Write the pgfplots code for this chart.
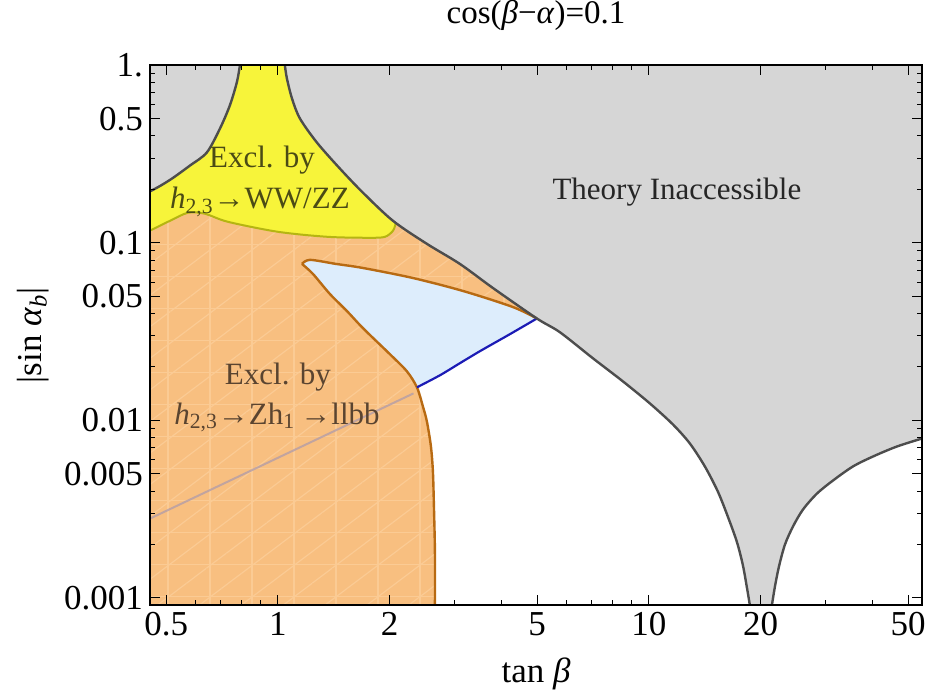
\documentclass[border=0pt]{standalone}
\usepackage{pgfplots}
\pgfplotsset{compat=1.18}
\usepackage{fontspec}
\setmainfont{Liberation Serif}
\usetikzlibrary{patterns.meta}
\definecolor{gfill}{HTML}{D6D6D6}
\definecolor{gline}{HTML}{4D4D4D}
\definecolor{yfill}{HTML}{F7F43A}
\definecolor{yline}{HTML}{B5B512}
\definecolor{ofill}{HTML}{F8BF80}
\definecolor{omesh}{HTML}{FBCB94}
\definecolor{bfill}{HTML}{DDEDFC}
\definecolor{bline}{HTML}{1B1BB5}
\definecolor{brline}{HTML}{B86A12}
\definecolor{ytext}{HTML}{4B4B15}
\definecolor{otext}{HTML}{5A4430}
\newcommand\fs{\fontsize{15.5}{18}\selectfont}
\newcommand\fst{\fontsize{17.5}{20}\selectfont}
\begin{document}
\begin{tikzpicture}
\begin{axis}[
  xmode=log, ymode=log,
  scale only axis, width=386pt, height=270pt,
  xmin=0.452, xmax=54.5, ymin=0.00091, ymax=1,
  axis on top,
  xtick={0.5,1,2,5,10,20,50}, xticklabels={0.5,1,2,5,10,20,50},
  minor xtick={0.6,0.7,0.8,0.9,3,4,6,7,8,9,30,40},
  ytick={0.001,0.005,0.01,0.05,0.1,0.5,1},
  yticklabels={0.001,0.005,0.01,0.05,0.1,0.5,1.},
  minor ytick={0.002,0.003,0.004,0.006,0.007,0.008,0.009,0.02,0.03,0.04,0.06,0.07,0.08,0.09,0.2,0.3,0.4,0.6,0.7,0.8,0.9},
  major tick length=5pt, minor tick length=2.5pt,
  tick style={black, line width=0.5pt},
  axis line style={black, line width=1pt},
  ticklabel style={font=\fst},
  title={cos(\textit{β}−\textit{α})=0.1},
  title style={font=\fontsize{16.5}{19}\selectfont, inner sep=0pt, at={(axis description cs:0.5,1.0556)}, anchor=base},
  xlabel={tan \textit{β}},
  xlabel style={font=\fst, inner sep=0pt, at={(axis description cs:0.5,-0.1426)}, anchor=base},
  ylabel={|sin \textit{α}\textsubscript{\textit{b}}|},
  ylabel style={font=\fst, inner sep=0pt, at={(axis description cs:-0.1516,0.5)}, anchor=center, rotate=0},
]
% orange excluded region (h -> Z h1 -> llbb)
\addplot[draw=none, fill=ofill] coordinates {
 (0.452,0.00091) (0.452,1) (4.99,1) (4.99,0.0375) (4.22,0.0306) (3.504,0.02454)
 (3.094,0.0210) (2.734,0.01796) (2.370,0.01536) (2.459,0.0120) (2.521,0.00987)
 (2.585,0.00713) (2.617,0.00515) (2.633,0.00335) (2.650,0.00182) (2.65,0.00091)
} -- cycle;
\addplot[draw=none, pattern={Lines[angle=90,distance=21pt,line width=0.6pt]}, pattern color=omesh] coordinates {
 (0.452,0.00091) (0.452,1) (4.99,1) (4.99,0.0375) (4.22,0.0306) (3.504,0.02454)
 (3.094,0.0210) (2.734,0.01796) (2.370,0.01536) (2.459,0.0120) (2.521,0.00987)
 (2.585,0.00713) (2.617,0.00515) (2.633,0.00335) (2.650,0.00182) (2.65,0.00091)
} -- cycle;
\addplot[draw=none, pattern={Lines[angle=0,distance=16pt,line width=0.6pt]}, pattern color=omesh] coordinates {
 (0.452,0.00091) (0.452,1) (4.99,1) (4.99,0.0375) (4.22,0.0306) (3.504,0.02454)
 (3.094,0.0210) (2.734,0.01796) (2.370,0.01536) (2.459,0.0120) (2.521,0.00987)
 (2.585,0.00713) (2.617,0.00515) (2.633,0.00335) (2.650,0.00182) (2.65,0.00091)
} -- cycle;
\addplot[draw=none, pattern={Lines[angle=37,distance=12.6pt,line width=0.6pt]}, pattern color=omesh] coordinates {
 (0.452,0.00091) (0.452,1) (4.99,1) (4.99,0.0375) (4.22,0.0306) (3.504,0.02454)
 (3.094,0.0210) (2.734,0.01796) (2.370,0.01536) (2.459,0.0120) (2.521,0.00987)
 (2.585,0.00713) (2.617,0.00515) (2.633,0.00335) (2.650,0.00182) (2.65,0.00091)
} -- cycle;
% faint diagonal line
\addplot[draw={rgb,255:red,175;green,155;blue,170}, line width=1pt, opacity=0.75] coordinates {(0.452,0.0028) (2.32,0.0142)};
% light blue region
\addplot[draw=none, fill=bfill] coordinates {
 (1.161,0.0761) (1.220,0.0802) (1.434,0.0761) (1.695,0.0722) (2.311,0.0634)
 (3.152,0.0536) (4.30,0.0435) (4.99,0.0375) (4.22,0.0306) (3.504,0.02454)
 (3.094,0.0210) (2.734,0.01796) (2.370,0.01536) (2.227,0.0189) (2.004,0.0236)
 (1.695,0.0331) (1.535,0.0413) (1.381,0.0515) (1.243,0.0668)
} -- cycle;
% yellow region (h -> WW/ZZ)
\addplot[draw=none, fill=yfill] coordinates {
 (0.452,0.117) (0.5116,0.1331) (0.572,0.1477) (0.6355,0.1459) (0.733,0.1314)
 (1.0,0.1154) (1.364,0.1081) (1.770,0.1068) (1.943,0.1081) (2.042,0.1169)
 (2.08,0.1297) (2.2,0.14) (2.2,1) (0.452,1)
} -- cycle;
% theory inaccessible (gray)
\addplot[draw=none, fill=gfill] coordinates {
 (0.452,0.195) (0.481,0.209) (0.521,0.232) (0.579,0.2723) (0.643,0.3225)
 (0.698,0.4406) (0.742,0.5943) (0.775,0.8016) (0.790,1) (0.452,1)
} -- cycle;
\addplot[draw=none, fill=gfill] coordinates {
 (1.044,1) (1.057,0.845) (1.091,0.651) (1.146,0.502) (1.274,0.367) (1.469,0.262)
 (1.695,0.1917) (2.042,0.1331) (2.521,0.0987) (3.094,0.0761) (3.798,0.0557)
 (4.99,0.0375) (5.754,0.0314) (7.063,0.0224) (8.51,0.0166) (10.06,0.01247)
 (11.61,0.00949) (12.90,0.00741) (14.16,0.00550) (15.35,0.00397) (16.33,0.00287)
 (17.27,0.00207) (17.92,0.001536) (18.37,0.001154) (18.72,0.00091)
 (21.46,0.00091) (21.86,0.001154) (22.41,0.001496) (23.26,0.001993) (24.44,0.002518)
 (26.01,0.003143) (28.37,0.003869) (31.33,0.004581) (35.47,0.00550) (40.17,0.00626)
 (46.62,0.00713) (54.5,0.00791) (54.5,1)
} -- cycle;
% boundary lines
\addplot[yline, line width=1pt, smooth, tension=0.5] coordinates {
 (0.452,0.117) (0.5116,0.1331) (0.572,0.1477) (0.6355,0.1459) (0.733,0.1314)
 (1.0,0.1154) (1.364,0.1081) (1.770,0.1068) (1.943,0.1081) (2.042,0.1169) (2.08,0.1297)
};
\addplot[brline, line width=1.2pt, smooth, tension=0.5] coordinates {
 (4.99,0.0375) (4.30,0.0435) (3.152,0.0536) (2.311,0.0634) (1.695,0.0722)
 (1.434,0.0761) (1.220,0.0802) (1.161,0.0761)
};
\addplot[brline, line width=1.2pt, smooth, tension=0.5] coordinates {
 (1.161,0.0761) (1.243,0.0668) (1.381,0.0515)
 (1.535,0.0413) (1.695,0.0331) (2.004,0.0236) (2.227,0.0189) (2.370,0.01536)
 (2.459,0.0120) (2.521,0.00987) (2.585,0.00713) (2.617,0.00515) (2.633,0.00335)
 (2.650,0.00182) (2.65,0.00091)
};
\addplot[bline, line width=1.1pt, smooth, tension=0.5] coordinates {
 (4.99,0.0375) (4.22,0.0306) (3.504,0.02454) (3.094,0.0210) (2.734,0.01796) (2.370,0.01536)
};
\addplot[gline, line width=1.2pt, smooth, tension=0.5] coordinates {
 (0.452,0.195) (0.481,0.209) (0.521,0.232) (0.579,0.2723) (0.643,0.3225)
 (0.698,0.4406) (0.742,0.5943) (0.775,0.8016) (0.790,1)
};
\addplot[gline, line width=1.2pt, smooth, tension=0.5] coordinates {
 (1.044,1) (1.057,0.845) (1.091,0.651) (1.146,0.502) (1.274,0.367) (1.469,0.262)
 (1.695,0.1917) (2.042,0.1331) (2.521,0.0987) (3.094,0.0761) (3.798,0.0557)
 (4.99,0.0375) (5.754,0.0314) (7.063,0.0224) (8.51,0.0166) (10.06,0.01247)
 (11.61,0.00949) (12.90,0.00741) (14.16,0.00550) (15.35,0.00397) (16.33,0.00287)
 (17.27,0.00207) (17.92,0.001536) (18.37,0.001154) (18.72,0.00091)
};
\addplot[gline, line width=1.2pt, smooth, tension=0.5] coordinates {
 (21.46,0.00091) (21.86,0.001154) (22.41,0.001496) (23.26,0.001993) (24.44,0.002518)
 (26.01,0.003143) (28.37,0.003869) (31.33,0.004581) (35.47,0.00550) (40.17,0.00626)
 (46.62,0.00713) (54.5,0.00791)
};
% labels
\node[anchor=base, font=\fs, text=black!85] at (axis cs:11.9,0.175) {Theory Inaccessible};
\node[anchor=base, font=\fs, text=ytext] at (axis cs:0.906,0.2654) {Excl. by};
\node[anchor=base, font=\fs, text=ytext] at (axis cs:0.894,0.1556) {\textit{h}\textsubscript{2,3}→WW/ZZ};
\node[anchor=base, font=\fs, text=otext] at (axis cs:1.0,0.01596) {Excl. by};
\node[anchor=base, font=\fs, text=otext] at (axis cs:0.994,0.00949) {\textit{h}\textsubscript{2,3}→Zh\textsubscript{1}\,→llbb};
\coordinate (bbA) at (rel axis cs:-0.1943,-0.1611);
\coordinate (bbB) at (rel axis cs:1.0194,1.1204);
\end{axis}
\path (bbA) rectangle (bbB);
\end{tikzpicture}
\end{document}
